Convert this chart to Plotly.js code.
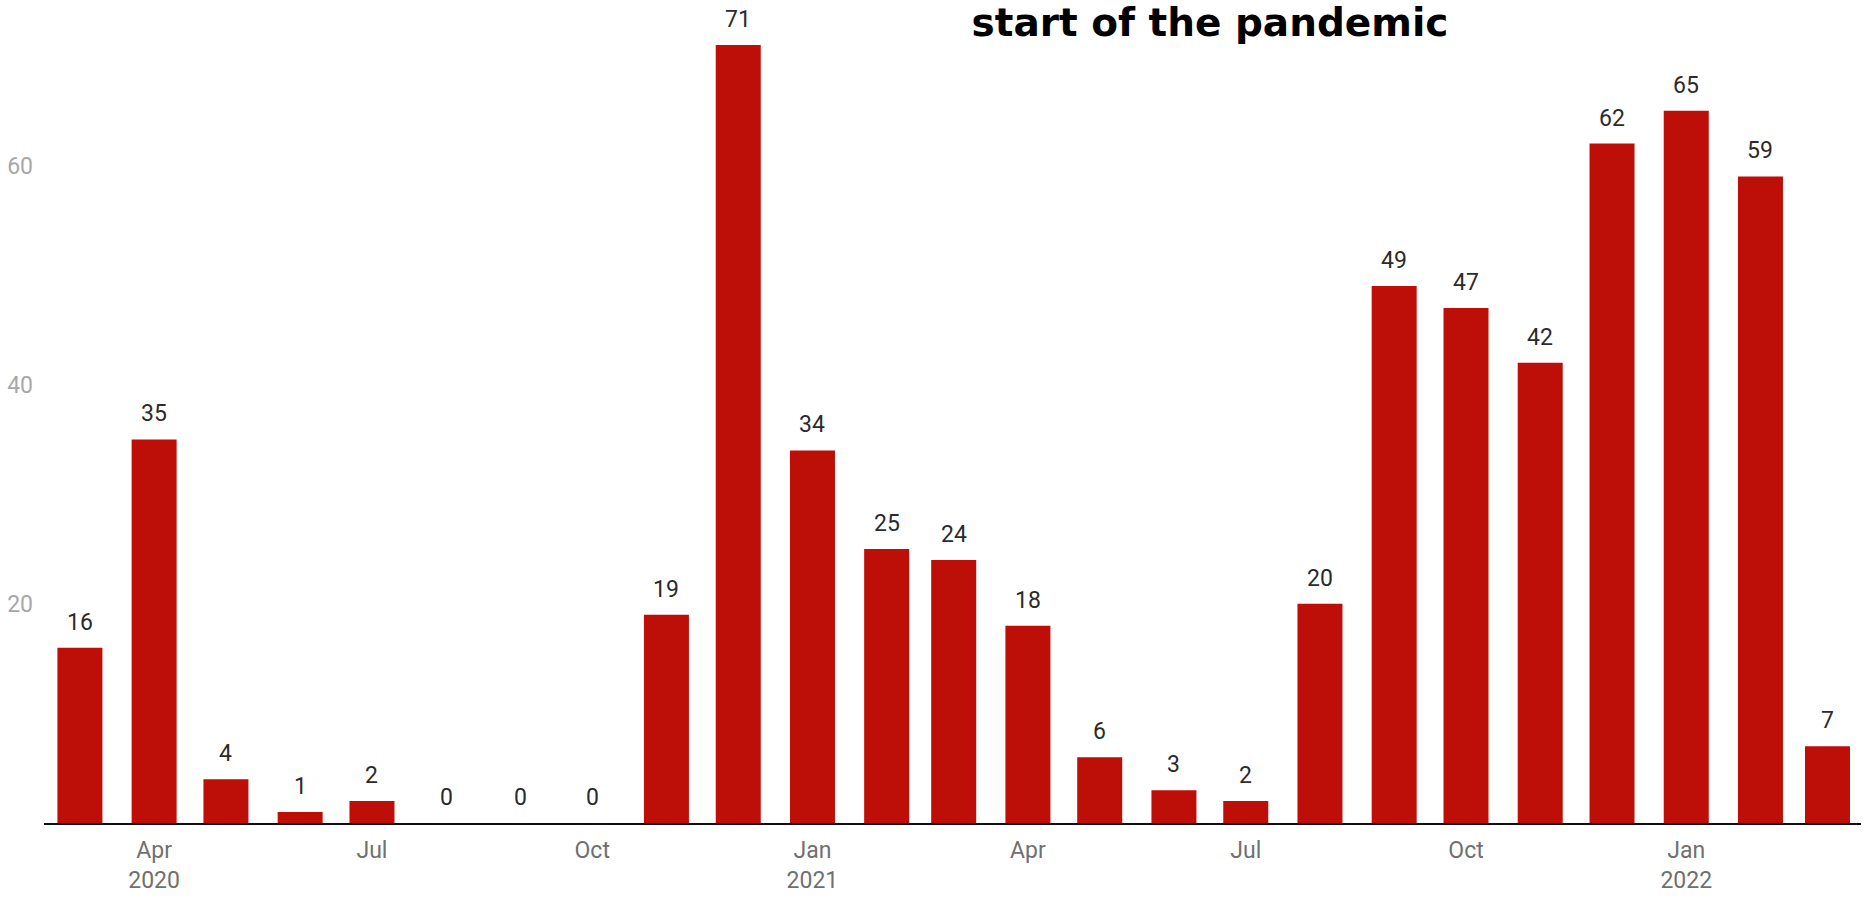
<!DOCTYPE html>
<html>
<head>
<meta charset="utf-8">
<script src="https://cdn.plot.ly/plotly-3.0.1.min.js"></script>
<style>
  html, body { margin: 0; padding: 0; background: #ffffff; }
  #chart { width: 1865px; height: 898px; }
</style>
</head>
<body>
<div id="chart"></div>
<script>
// ---- data ----
const months = [
  "2020-03-01", "2020-04-01", "2020-05-01", "2020-06-01", "2020-07-01",
  "2020-08-01", "2020-09-01", "2020-10-01", "2020-11-01", "2020-12-01",
  "2021-01-01", "2021-02-01", "2021-03-01", "2021-04-01", "2021-05-01",
  "2021-06-01", "2021-07-01", "2021-08-01", "2021-09-01", "2021-10-01",
  "2021-11-01", "2021-12-01", "2022-01-01", "2022-02-01", "2022-03-01"
];
const values = [
  16, 35, 4, 1, 2,
  0, 0, 0, 19, 71,
  34, 25, 24, 18, 6,
  3, 2, 20, 49, 47,
  42, 62, 65, 59, 7
];
const xTickVals = [
  "2020-04-01", "2020-07-01", "2020-10-01", "2021-01-01",
  "2021-04-01", "2021-07-01", "2021-10-01", "2022-01-01"
];
const xTickText = [
  "Apr<br>2020", "Jul", "Oct", "Jan<br>2021",
  "Apr", "Jul", "Oct", "Jan<br>2022"
];
const yTickVals = [20, 40, 60];
const yTickText = ["20", "40", "60"];
const titleText = "start of the pandemic";

// ---- chart ----
const DAY = 86400000;
const barColor = "#bd0e08";

const trace = {
  type: "bar",
  x: months,
  y: values,
  width: months.map(() => 18.8 * DAY),
  marker: { color: barColor, line: { width: 0 } },
  hoverinfo: "x+y",
  showlegend: false
};

const labelAnnotations = months.map((m, i) => ({
  x: m,
  y: values[i],
  xref: "x",
  yref: "y",
  text: String(values[i]),
  showarrow: false,
  xanchor: "center",
  yanchor: "bottom",
  yshift: 10,
  font: { family: "Roboto, sans-serif", size: 23, color: "#2b2b2b" }
}));

const layout = {
  width: 1865,
  height: 898,
  margin: { l: 44, r: 4, t: 34, b: 75, pad: 0 },
  paper_bgcolor: "#ffffff",
  plot_bgcolor: "#ffffff",
  font: { family: "Roboto, sans-serif", size: 23, color: "#6e6e6e" },
  title: {
    text: titleText,
    font: { family: "DejaVu Sans, sans-serif", size: 39, weight: 700, color: "#000000" },
    xref: "container",
    yref: "container",
    x: 1210 / 1865,
    xanchor: "center",
    y: 0.99,
    yanchor: "top"
  },
  xaxis: {
    type: "date",
    range: ["2020-02-15", "2022-03-15"],
    tickmode: "array",
    tickvals: xTickVals,
    ticktext: xTickText,
    ticks: "",
    ticklabelstandoff: 5,
    showgrid: false,
    zeroline: false,
    showline: true,
    linecolor: "#111111",
    linewidth: 2,
    tickfont: { family: "Roboto, sans-serif", size: 23, color: "#707070" },
    fixedrange: true
  },
  yaxis: {
    range: [0, 72],
    tickmode: "array",
    tickvals: yTickVals,
    ticktext: yTickText,
    ticks: "",
    ticklabelstandoff: 10,
    showgrid: false,
    zeroline: false,
    showline: false,
    tickfont: { family: "Roboto, sans-serif", size: 23, color: "#a8a8a8" },
    fixedrange: true
  },
  bargap: 0.33,
  annotations: labelAnnotations
};

Plotly.newPlot("chart", [trace], layout, { displayModeBar: false, staticPlot: false, responsive: false });
</script>
</body>
</html>
